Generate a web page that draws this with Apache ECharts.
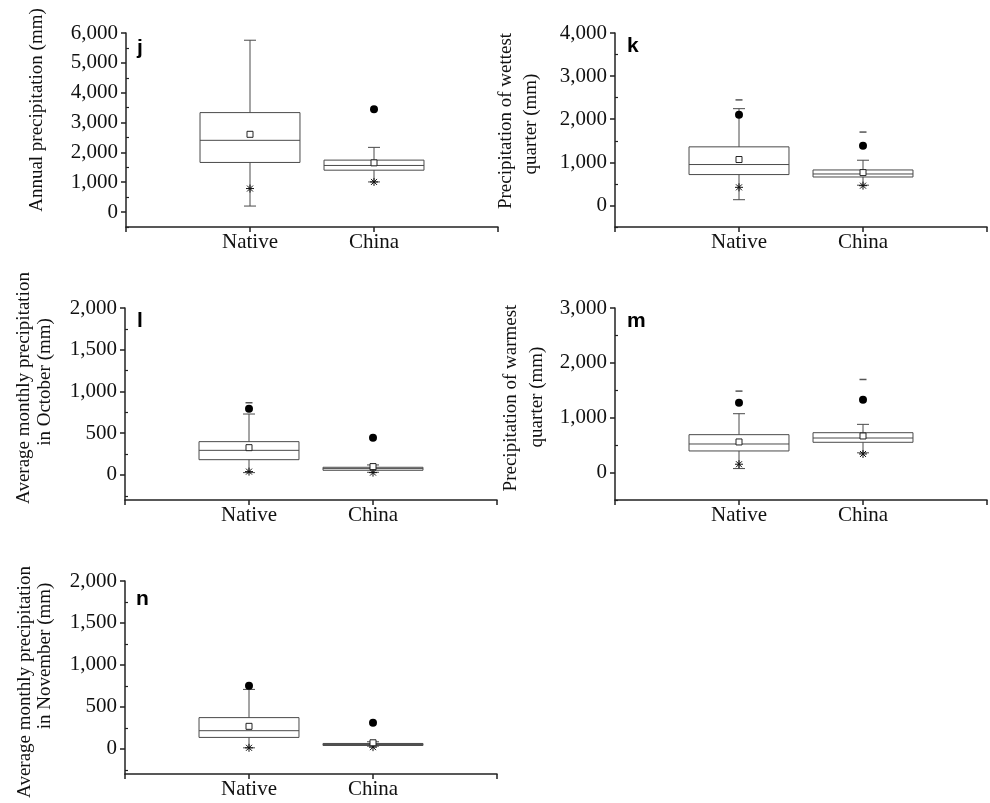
<!DOCTYPE html>
<html><head><meta charset="utf-8">
<script src="https://cdn.jsdelivr.net/npm/echarts@6/dist/echarts.min.js"></script>
<style>html,body{margin:0;padding:0;background:#fff}#c{width:990px;height:803px}</style>
</head><body><div id="c"></div>
<script>
// ---------- data ----------
const categories = ['Native', 'China'];

// box stats per group: [whisker low, Q1, median, Q3, whisker high]
const jBox = [[202, 1663, 2404, 3333, 5758], [1010, 1404, 1562, 1741, 2168]];
const jMean = [2606, 1650];
const jStar = [788, 1010];
const jDot = [null, 3448];
const jDash = [null, null];
const jTicks = [0, 1000, 2000, 3000, 4000, 5000, 6000];
const jMinor = [-500, 500, 1500, 2500, 3500, 4500, 5500];

const kBox = [[133, 716, 949, 1359, 2245], [470, 660, 730, 823, 1049]];
const kMean = [1065, 762];
const kStar = [420, 459];
const kDot = [2105, 1382];
const kDash = [2448, 1702];
const kTicks = [0, 1000, 2000, 3000, 4000];
const kMinor = [-500, 500, 1500, 2500, 3500];

const lBox = [[28, 183, 295, 399, 730], [32, 56, 76, 92, 120]];
const lMean = [327, 100];
const lStar = [40, 28];
const lDot = [793, 447];
const lDash = [865, null];
const lTicks = [0, 500, 1000, 1500, 2000];
const lMinor = [-250, 250, 750, 1250, 1750];

const mBox = [[73, 394, 521, 691, 1073], [360, 552, 630, 727, 879]];
const mMean = [558, 667];
const mStar = [152, 339];
const mDot = [1273, 1327];
const mDash = [1485, 1697];
const mTicks = [0, 1000, 2000, 3000];
const mMinor = [-500, 500, 1500, 2500];

const nBox = [[12, 136, 216, 372, 708], [32, 40, 52, 64, 84]];
const nMean = [268, 72];
const nStar = [12, 20];
const nDot = [752, 312];
const nDash = [null, null];
const nTicks = [0, 500, 1000, 1500, 2000];
const nMinor = [-250, 250, 750, 1250, 1750];

// ---------- layout ----------
const panels = [
  {letter: 'j', box: jBox, mean: jMean, star: jStar, dot: jDot, dash: jDash, ticks: jTicks, minor: jMinor, min: -500, max: 6000,
   grid: {left: 126, top: 33, width: 372, height: 194}, letterPos: [137, 59],
   titles: [{text: 'Annual precipitation (mm)', x: 37, y: 110}]},
  {letter: 'k', box: kBox, mean: kMean, star: kStar, dot: kDot, dash: kDash, ticks: kTicks, minor: kMinor, min: -500, max: 4000,
   grid: {left: 615, top: 33, width: 372, height: 194}, letterPos: [627, 57],
   titles: [{text: 'Precipitation of wettest', x: 506, y: 121}, {text: 'quarter (mm)', x: 531, y: 124}]},
  {letter: 'l', box: lBox, mean: lMean, star: lStar, dot: lDot, dash: lDash, ticks: lTicks, minor: lMinor, min: -300, max: 2000,
   grid: {left: 125, top: 308, width: 372, height: 192}, letterPos: [137, 332],
   titles: [{text: 'Average monthly precipitation', x: 24, y: 388}, {text: 'in October (mm)', x: 45, y: 382}]},
  {letter: 'm', box: mBox, mean: mMean, star: mStar, dot: mDot, dash: mDash, ticks: mTicks, minor: mMinor, min: -500, max: 3000,
   grid: {left: 615, top: 308, width: 372, height: 192}, letterPos: [627, 332],
   titles: [{text: 'Precipitation of warmest', x: 511, y: 398}, {text: 'quarter (mm)', x: 537, y: 397}]},
  {letter: 'n', box: nBox, mean: nMean, star: nStar, dot: nDot, dash: nDash, ticks: nTicks, minor: nMinor, min: -300, max: 2000,
   grid: {left: 125, top: 581, width: 372, height: 193}, letterPos: [136, 610],
   titles: [{text: 'Average monthly precipitation', x: 25, y: 682}, {text: 'in November (mm)', x: 45, y: 656}]}
];

const AXIS = '#222';
const BOXC = '#4a4a4a';
const SERIF = '"Liberation Serif", "Times New Roman", serif';
const BOX_W = 0.806; // box width in x units
const CAP = 6;       // whisker cap half width, px

function fmt(v) { return String(v).replace(/\B(?=(\d{3})+(?!\d))/g, ','); }

function renderBox(params, api) {
  const x = api.value(0);
  const lo = api.coord([x, api.value(1)]);
  const q1 = api.coord([x, api.value(2)]);
  const md = api.coord([x, api.value(3)]);
  const q3 = api.coord([x, api.value(4)]);
  const hi = api.coord([x, api.value(5)]);
  const hw = api.size([BOX_W, 0])[0] / 2;
  const cx = lo[0];
  const st = {stroke: BOXC, lineWidth: 1, fill: null};
  const line = (x1, y1, x2, y2) => ({type: 'line', shape: {x1, y1, x2, y2}, style: st});
  return {
    type: 'group',
    children: [
      line(cx, lo[1], cx, q1[1]),
      line(cx, q3[1], cx, hi[1]),
      line(cx - CAP, lo[1], cx + CAP, lo[1]),
      line(cx - CAP, hi[1], cx + CAP, hi[1]),
      {type: 'rect', shape: {x: cx - hw, y: q3[1], width: 2 * hw, height: q1[1] - q3[1]}, style: st},
      line(cx - hw, md[1], cx + hw, md[1])
    ]
  };
}

function renderStar(params, api) {
  const p = api.coord([api.value(0), api.value(1)]);
  const r = 4, d = 3;
  const st = {stroke: '#111', lineWidth: 1};
  const line = (x1, y1, x2, y2) => ({type: 'line', shape: {x1, y1, x2, y2}, style: st});
  return {type: 'group', children: [
    line(p[0] - r, p[1], p[0] + r, p[1]),
    line(p[0], p[1] - r, p[0], p[1] + r),
    line(p[0] - d, p[1] - d, p[0] + d, p[1] + d),
    line(p[0] - d, p[1] + d, p[0] + d, p[1] - d)
  ]};
}

const pts = arr => arr.map((v, i) => v == null ? null : [i + 1, v]).filter(Boolean);

const grid = [], xAxis = [], yAxis = [], series = [], graphic = [];
panels.forEach((p, i) => {
  grid.push(Object.assign({containLabel: false}, p.grid));
  xAxis.push({
    type: 'value', gridIndex: i, min: 0, max: 3,
    splitLine: {show: false},
    axisLine: {show: true, onZero: false, lineStyle: {color: AXIS, width: 1.5}},
    axisTick: {show: true, customValues: [0, 1, 2, 3], length: 5, lineStyle: {color: AXIS, width: 1.5}},
    axisLabel: {show: true, customValues: [1, 2], formatter: v => categories[Math.round(v) - 1],
      fontFamily: SERIF, fontSize: 21, color: '#111', margin: 5}
  });
  yAxis.push({
    type: 'value', gridIndex: i, min: p.min, max: p.max,
    splitLine: {show: false},
    axisLine: {show: true, onZero: false, lineStyle: {color: AXIS, width: 1.5}},
    axisTick: {show: true, customValues: p.ticks, length: 5, lineStyle: {color: AXIS, width: 1.5}},
    axisLabel: {show: true, customValues: p.ticks, formatter: fmt,
      fontFamily: SERIF, fontSize: 21, color: '#111', margin: 8}
  });
});
panels.forEach((p, i) => {
  yAxis.push({
    type: 'value', gridIndex: i, min: p.min, max: p.max,
    splitLine: {show: false},
    axisLine: {show: false},
    axisTick: {show: true, customValues: p.minor, length: 3, lineStyle: {color: AXIS, width: 1.2}},
    axisLabel: {show: false}
  });
});

panels.forEach((p, i) => {
  series.push({
    type: 'custom', xAxisIndex: i, yAxisIndex: i, z: 2, silent: true,
    renderItem: renderBox,
    encode: {x: 0, y: [1, 2, 3, 4, 5]},
    data: p.box.map((b, k) => [k + 1].concat(b))
  });
  series.push({
    type: 'custom', xAxisIndex: i, yAxisIndex: i, z: 3, silent: true,
    renderItem: renderStar, encode: {x: 0, y: 1},
    data: pts(p.star)
  });
  series.push({
    type: 'scatter', xAxisIndex: i, yAxisIndex: i, z: 4, silent: true,
    symbol: 'rect', symbolSize: 6,
    itemStyle: {color: '#fff', borderColor: '#222', borderWidth: 1, opacity: 1},
    data: pts(p.mean)
  });
  series.push({
    type: 'scatter', xAxisIndex: i, yAxisIndex: i, z: 4, silent: true,
    symbol: 'circle', symbolSize: 8,
    itemStyle: {color: '#000', opacity: 1},
    data: pts(p.dot)
  });
  series.push({
    type: 'scatter', xAxisIndex: i, yAxisIndex: i, z: 4, silent: true,
    symbol: 'rect', symbolSize: [7, 1.5],
    itemStyle: {color: '#555', opacity: 1},
    data: pts(p.dash)
  });
  graphic.push({
    type: 'text', x: p.letterPos[0], y: p.letterPos[1],
    style: {text: p.letter, font: 'bold 21px "Liberation Sans", Arial, sans-serif', fill: '#000',
      textAlign: 'left', textVerticalAlign: 'bottom', align: 'left', verticalAlign: 'bottom'}
  });
  p.titles.forEach(t => {
    graphic.push({
      type: 'text', x: t.x, y: t.y, rotation: Math.PI / 2,
      style: {text: t.text, font: '19px ' + SERIF, fill: '#111',
        textAlign: 'center', textVerticalAlign: 'middle', align: 'center', verticalAlign: 'middle'}
    });
  });
});

const chart = echarts.init(document.getElementById('c'), null, {renderer: 'canvas'});
chart.setOption({
  animation: false,
  backgroundColor: '#fff',
  grid, xAxis, yAxis, series, graphic
});
</script>
</body></html>
